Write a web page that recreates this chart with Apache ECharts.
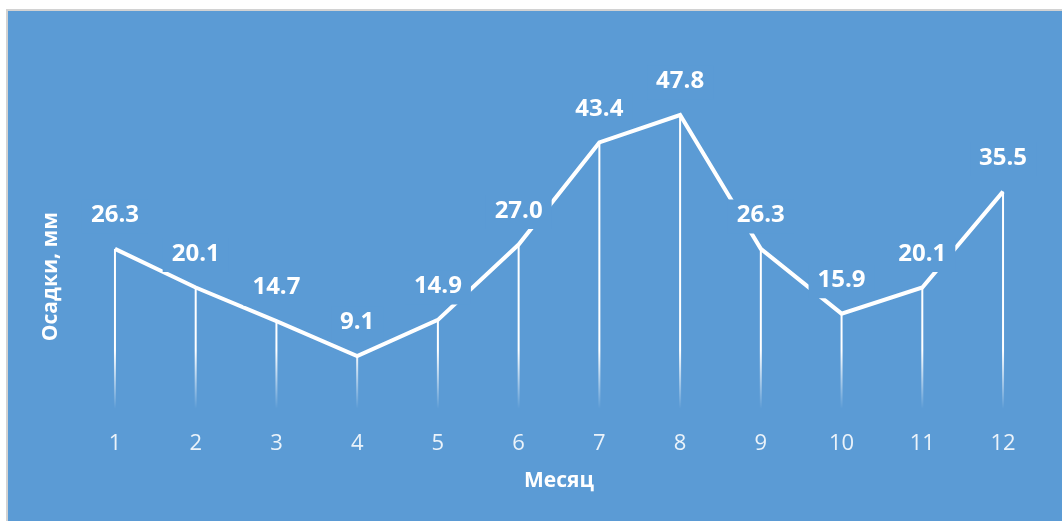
<!DOCTYPE html>
<html>
<head>
<meta charset="utf-8">
<script src="https://cdn.jsdelivr.net/npm/echarts@6/dist/echarts.min.js"></script>
<style>
  html, body { margin: 0; padding: 0; background: #ffffff; }
  #frame {
    position: absolute; left: 6px; top: 9px;
    width: 1054px; height: 510px;
    border-left: 2px solid #d2d2d2; border-top: 2px solid #d2d2d2;
  }
  #chart { width: 1054px; height: 510px; }
</style>
</head>
<body>
<div id="frame"><div id="chart"></div></div>
<script>
// Monthly precipitation, mm
const months = ['1', '2', '3', '4', '5', '6', '7', '8', '9', '10', '11', '12'];
const precipitation = [26.3, 20.1, 14.7, 9.1, 14.9, 27.0, 43.4, 47.8, 26.3, 15.9, 20.1, 35.5];
const xTitle = 'Месяц';
const yTitle = 'Осадки, мм';

const BLUE = '#5b9bd5';
const FONT = '"Open Sans", "Liberation Sans", sans-serif';

const chart = echarts.init(document.getElementById('chart'), null, { renderer: 'canvas' });

// vertical drop lines from each point to the baseline, fading out near the bottom
function dropLine(params, api) {
  const top = api.coord([api.value(0), api.value(1)]);
  const base = api.coord([api.value(0), 0]);
  return {
    type: 'rect',
    shape: { x: top[0] - 1, y: top[1], width: 2, height: base[1] - top[1] },
    style: {
      fill: new echarts.graphic.LinearGradient(0, base[1] - 62, 0, base[1] - 4, [
        { offset: 0, color: 'rgba(255,255,255,1)' },
        { offset: 1, color: 'rgba(255,255,255,0)' }
      ], true)
    }
  };
}

chart.setOption({
  animation: false,
  backgroundColor: BLUE,
  grid: { left: 66.6, right: 18.6, top: 28, bottom: 108.3 },
  xAxis: {
    type: 'category',
    data: months,
    boundaryGap: true,
    axisLine: { show: false },
    axisTick: { show: false },
    axisLabel: { color: 'rgba(255,255,255,0.88)', fontSize: 22, fontFamily: FONT, margin: 20 },
    name: xTitle,
    nameLocation: 'middle',
    nameGap: 58,
    nameTextStyle: { color: '#ffffff', fontSize: 21, fontWeight: 'bold', fontFamily: FONT }
  },
  yAxis: {
    type: 'value',
    min: 0,
    max: 60,
    interval: 10,
    axisLine: { show: false },
    axisTick: { show: false },
    axisLabel: { show: false },
    splitLine: { show: false }
  },
  graphic: [{
    type: 'text',
    left: 33,
    top: 201,
    rotation: Math.PI / 2,
    style: {
      text: yTitle,
      fill: '#ffffff',
      font: 'bold 21px ' + FONT
    }
  }],
  series: [
    {
      type: 'custom',
      renderItem: dropLine,
      data: precipitation.map((v, i) => [i, v]),
      z: 1,
      silent: true
    },
    {
      type: 'line',
      data: precipitation,
      symbol: 'circle',
      symbolSize: 1,
      showSymbol: true,
      itemStyle: { color: 'rgba(255,255,255,0)' },
      z: 2,
      lineStyle: { color: '#ffffff', width: 4, join: 'miter' },
      label: {
        show: true,
        position: 'top',
        distance: 15,
        formatter: p => p.value.toFixed(1),
        color: '#ffffff',
        fontSize: 24,
        fontWeight: 'bold',
        fontFamily: FONT,
        lineHeight: 26,
        backgroundColor: BLUE,
        padding: [3, 9, 5, 9]
      }
    }
  ]
});
</script>
</body>
</html>
